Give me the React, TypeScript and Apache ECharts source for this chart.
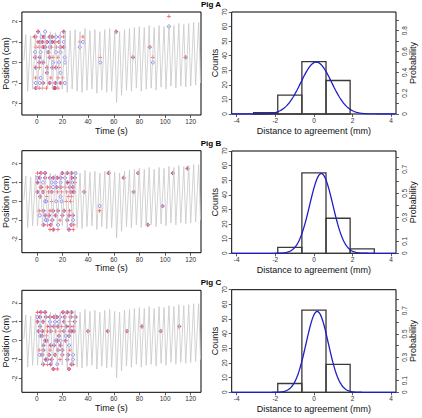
import { useEffect, useRef } from "react";
import * as echarts from "echarts";

const pigNames = ["Pig A", "Pig B", "Pig C"];

const timeTicks = [0, 20, 40, 60, 80, 100, 120];
const positionTicks = [-2, -1, 0, 1, 2];
const distanceTicks = [-4, -2, 0, 2, 4];
const countTicks = [0, 10, 20, 30, 40, 50, 60, 70];

// Breathing trace shared by the three panels: [time (s), position (cm)]
const breathingTrace: [number, number][] = [
  [-10, 0.1],
  [-8.6, 1.35], [-7.1, -1.4], [-4.75, 1.3], [-3.25, -1.3], [-0.9, 1.4], [0.6, -1.3],
  [2.95, 1.45], [4.45, -1.35], [6.8, 1.4], [8.3, -1.25], [10.65, 1.5], [12.15, -1.3],
  [14.5, 1.45], [16.0, -1.35], [18.35, 1.5], [19.85, -1.3], [22.2, 1.5], [23.7, -1.45],
  [26.05, 1.55], [27.55, -1.3], [29.9, 1.6], [31.4, -1.4], [33.75, 1.5], [35.25, -1.45],
  [37.6, 1.65], [39.1, -1.35], [41.45, 1.55], [42.95, -1.3], [45.3, 1.6], [46.8, -1.5],
  [49.15, 1.5], [50.65, -1.35], [53.0, 1.6], [54.5, -1.45], [56.85, 1.65], [58.35, -1.4],
  [60.7, 1.55], [62.2, -1.95], [64.55, 1.5], [66.05, -1.6], [68.4, 1.6], [69.9, -1.35],
  [72.25, 1.65], [73.75, -1.4], [76.1, 1.7], [77.6, -1.25], [79.95, 1.75], [81.45, -1.4],
  [83.8, 1.7], [85.3, -1.3], [87.65, 1.8], [89.15, -1.25], [91.5, 1.7], [93.0, -1.35],
  [95.35, 1.8], [96.85, -1.2], [99.2, 1.75], [100.7, -1.3], [103.05, 1.85], [104.55, -1.15],
  [106.9, 1.8], [108.4, -1.25], [110.75, 1.9], [112.25, -1.15], [114.6, 1.85], [116.1, -1.2],
  [118.45, 1.9], [119.95, -1.15], [122.3, 1.95], [123.8, -1.1], [126.15, 1.95], [127.65, -1.0],
];

// Marked positions [time (s), position (cm)]; "both" = marked by both methods
const pigABoth: [number, number][] = [
  [1, 1.5], [21, 1.5], [-1, 1.25], [5.5, 1.25], [10, 1.25], [12, 1.25],
  [2.3, 1.0], [4.4, 1.0], [8, 1.0], [12, 1.0], [14, 1.0], [17.3, 1.0],
  [5, 0.75], [6.5, 0.75], [18.5, 0.75], [21, 0.75], [9, 0.5],
  [-1.3, 0.25], [2.3, 0.25], [10, 0.25], [2, 0], [5, 0],
  [-0.8, -0.25], [8, -0.25], [12, -0.25], [15, -0.25], [8, -0.5],
  [5, -1.0], [10, -1.0], [14.5, -1.0], [18.5, -1.0],
  [-0.8, -1.25], [13.5, -1.25], [14.3, -1.25],
  [61.8, 1.5], [88, 0.75], [75, 0.25], [116, 0.25],
];
const pigARedOnly: [number, number][] = [
  [-2, 1.25], [21, 1.25], [0.8, 1.0], [-0.8, 0.75], [1.8, 0.75], [11.5, 0.75], [15.2, 0.75],
  [12.7, 0.25], [16.5, 0.25], [2, -0.25], [17.3, -0.25],
  [-0.8, -0.75], [11, -0.75], [16.5, -0.75], [20, -0.75],
  [1.8, -1.25], [4.4, -1.25], [7.5, -1.25], [16.5, -1.25],
  [36, 1.25], [33.5, 1.0], [49.5, 0.25], [90.5, 0.25], [103, 2.25],
];
const pigABlueOnly: [number, number][] = [
  [6.5, 1.5], [3.8, 1.25], [15, 1.25], [18, 1.25], [10.3, 1.0], [21, 1.0], [10, 0.75],
  [-1.3, 0.5], [3, 0.5], [15, 0.5], [18.5, 0.5], [21.8, 0.25], [12.7, 0], [17.3, 0], [22, 0],
  [18.5, -0.5], [3, -0.75], [-0.8, -1.0], [2.3, -1.0], [21.8, -1.0],
  [36, 1.0], [33.5, 0.75], [49.5, 0], [90.5, 0], [103, 1.75],
];

const pigBBoth: [number, number][] = [
  [3.1, 1.5], [6.5, 1.5], [19.9, 1.5], [23.8, 1.5], [27.1, 1.5],
  [56, 1.5], [79, 1.5], [106, 1.5], [117.5, 1.75],
  [2.3, 1.25], [6.5, 1.25], [10.3, 1.25], [12.9, 1.25], [16.0, 1.25], [18.6, 1.25], [27.1, 1.25], [29.7, 1.25],
  [67.7, 1.25], [0.5, 1.0], [23.8, 1.0],
  [3.1, 0.75], [15.5, 0.75], [18.6, 0.75], [25.6, 0.75], [28.2, 0.75],
  [0.5, 0.5], [4.9, 0.5], [11.6, 0.5], [26.4, 0.5], [28.9, 0.5], [37, 0.5], [75.5, 0.5],
  [2.6, 0.25], [98, -0.25],
  [5.2, -0.5], [12.7, -0.5], [16.5, -0.5], [21.2, -0.5],
  [6.5, -0.75], [9.6, -0.75], [14.7, -0.75], [19.9, -0.75], [25.1, -0.75], [28.2, -0.75],
  [12.1, -1.0], [23.8, -1.0],
  [5.2, -1.25], [10.9, -1.25], [26.9, -1.25], [86.5, -1.25],
  [12.9, -1.5], [25.1, -1.5],
];
const pigBRedOnly: [number, number][] = [
  [0.5, 1.5], [25.6, 1.0], [29.7, 1.0],
  [3.9, 0.75], [8.3, 0.75], [10.3, 0.75], [22.0, 0.75],
  [9.0, 0.5], [16.0, 0.5], [19.4, 0.5], [23.3, 0.5], [28.2, 0.5],
  [7.8, 0.25], [24.5, 0.25], [27.1, 0.25],
  [11.6, 0], [23.0, 0], [26.4, 0], [49, -0.5],
  [1.8, -0.5], [10.3, -0.5], [25.6, -0.5], [18.1, -1.0],
  [8.3, -1.25], [28.9, -1.25], [10.3, -1.5], [16.5, -1.5], [28.4, -1.5],
];
const pigBBlueOnly: [number, number][] = [
  [30.2, 1.5], [0.5, 1.25], [22.0, 1.25],
  [4.9, 1.0], [11.6, 1.0], [14.7, 1.0], [18.6, 1.0], [27.6, 1.0],
  [12.7, 0.75], [18.6, 0.25],
  [6.5, 0], [7.5, 0], [15.2, 0], [19.4, 0], [49, -0.25],
  [2.3, -0.75], [7.0, -1.0], [8.3, -1.0], [28.2, -1.0], [16.5, -1.25],
];

const pigCBoth: [number, number][] = [
  [3.1, 1.5], [6.5, 1.5], [20.4, 1.5], [23.8, 1.5], [27.1, 1.5],
  [2.6, 1.25], [7.0, 1.25], [10.3, 1.25], [13.4, 1.25], [15.5, 1.25], [21.7, 1.25], [26.4, 1.25], [30.2, 1.25],
  [0.5, 1.0], [4.9, 1.0], [21.2, 1.0], [29.5, 1.0],
  [2.6, 0.75], [10.3, 0.75], [13.4, 0.75], [16.5, 0.75], [23.0, 0.75], [25.8, 0.75], [82, 0.75], [111, 0.75],
  [1.3, 0.5], [4.4, 0.5], [10.9, 0.5], [21.2, 0.5], [25.6, 0.5], [27.1, 0.5], [28.9, 0.5],
  [40, 0.5], [55.3, 0.5], [70.3, 0.5], [96.6, 0.5],
  [3.9, 0.25], [17.3, 0.25], [25.1, 0.25],
  [6.5, 0], [7.8, 0], [16.0, 0], [22.5, 0],
  [5.2, -0.25], [10.9, -0.25], [13.4, -0.25], [18.6, -0.25],
  [5.2, -0.5], [16.5, -0.5], [19.9, -0.5],
  [4.4, -0.75], [9.6, -0.75], [14.2, -0.75], [19.9, -0.75], [24.5, -0.75],
  [7.0, -1.0], [8.3, -1.0], [11.6, -1.0], [23.8, -1.0],
  [4.9, -1.25], [10.9, -1.25], [27.1, -1.25],
  [12.9, -1.5], [25.1, -1.5],
];
const pigCRedOnly: [number, number][] = [
  [0.5, 1.5], [25.6, 1.0], [8.3, 0.75], [19.4, 0.75], [28.4, 0.75],
  [8.3, 0.5], [14.7, 0.5], [18.1, 0.5], [7.5, 0.25],
  [1.8, -0.5], [10.3, -0.5], [25.8, -0.5], [18.1, -1.0],
  [8.3, -1.25], [28.4, -1.25], [16.0, -1.5],
];
const pigCBlueOnly: [number, number][] = [
  [0.5, 1.25], [18.1, 1.25], [10.3, 1.0], [14.2, 1.0], [17.3, 1.0],
  [2.6, 0.25], [22.5, 0.25], [14.7, 0], [18.6, 0], [25.1, -0.25],
  [2.3, -0.75], [28.2, -0.75], [28.2, -1.0], [16.0, -1.25],
];

// Histogram of distance to agreement (mm)
const binEdges = [-3.125, -1.875, -0.625, 0.625, 1.875, 3.125];
const pigACounts = [1, 13, 36, 23, 0];
const pigBCounts = [0, 4, 55, 24, 3];
const pigCCounts = [0, 6, 56, 19, 0];

// Fitted normal distributions
const fitMeans = [0.12, 0.38, 0.17];
const fitSds = [0.8, 0.6, 0.575];

const probabilityMax = [0.98, 0.853, 0.88];
const probabilityTicks = [
  [0, 0.1, 0.2, 0.3, 0.4, 0.5, 0.6, 0.7, 0.8, 0.9],
  [0, 0.1, 0.2, 0.3, 0.4, 0.5, 0.6, 0.7, 0.8],
  [0, 0.1, 0.2, 0.3, 0.4, 0.5, 0.6, 0.7, 0.8],
];
const probabilityLabels = [
  [0, 0.2, 0.4, 0.6, 0.8],
  [0, 0.1, 0.3, 0.5, 0.7],
  [0, 0.1, 0.3, 0.5, 0.7],
];

const positionRanges = [
  [-2.56, 2.46],
  [-2.73, 2.69],
  [-2.73, 2.66],
];

const FONT = "'Liberation Sans', Arial, sans-serif";
const PLUS = "path://M2,0H3V2H5V3H3V5H2V3H0V2H2Z";

function normalDensity(mean: number, sd: number): [number, number][] {
  const pts: [number, number][] = [];
  for (let x = -4.26; x <= 4.26; x += 0.04) {
    const z = (x - mean) / sd;
    pts.push([x, Math.exp(-0.5 * z * z) / (sd * Math.sqrt(2 * Math.PI))]);
  }
  return pts;
}

function histData(counts: number[]) {
  const rows: number[][] = [];
  counts.forEach((c, i) => {
    if (c > 0) rows.push([binEdges[i], binEdges[i + 1], c]);
  });
  return rows;
}

export default function App() {
  const ref = useRef<HTMLDivElement>(null);

  useEffect(() => {
    if (!ref.current) return;
    const chart = echarts.init(ref.current, undefined, { renderer: "svg" });

    const both = [pigABoth, pigBBoth, pigCBoth];
    const redOnly = [pigARedOnly, pigBRedOnly, pigCRedOnly];
    const blueOnly = [pigABlueOnly, pigBBlueOnly, pigCBlueOnly];
    const counts = [pigACounts, pigBCounts, pigCCounts];

    const leftTops = [12, 150.7, 290.3];
    const leftHeights = [103, 102, 102];
    const histTops = [12, 151, 289.7];
    const histHeights = [102, 102.3, 102.6];
    const titleTops = [0.5, 139.5, 278];

    const tickLabel = { fontSize: 6.5, color: "#333", fontFamily: FONT };
    const tickStyle = { color: "#333", width: 0.8 };
    const nameStyle = { fontSize: 9, color: "#111", fontFamily: FONT };
    const noLine = { show: false, onZero: false };

    const grid: any[] = [];
    const xAxis: any[] = [];
    const yAxis: any[] = [];
    const series: any[] = [];
    const title: any[] = [];

    for (let i = 0; i < 3; i++) {
      title.push({
        text: pigNames[i],
        left: "center",
        top: titleTops[i],
        padding: 0,
        textStyle: { fontSize: 8, fontWeight: "bold", color: "#000", fontFamily: FONT },
      });

      grid.push(
        {
          left: 21, top: leftTops[i], width: 180, height: leftHeights[i],
          show: true, borderColor: "#000", borderWidth: 1, backgroundColor: "transparent",
        },
        {
          left: 231.7, top: histTops[i], width: 164.3, height: histHeights[i],
          show: true, borderColor: "#000", borderWidth: 1, backgroundColor: "transparent",
        }
      );

      xAxis.push(
        {
          type: "value", gridIndex: 2 * i, min: -11.6, max: 128,
          axisLine: noLine, splitLine: { show: false },
          axisTick: { show: true, length: 3, customValues: timeTicks, lineStyle: tickStyle },
          axisLabel: { customValues: timeTicks, margin: 3, ...tickLabel },
          name: "Time (s)", nameLocation: "middle", nameGap: 11, nameTextStyle: nameStyle,
        },
        {
          type: "value", gridIndex: 2 * i + 1, min: -4.26, max: 4.25,
          axisLine: noLine, splitLine: { show: false },
          axisTick: { show: true, length: 3, customValues: distanceTicks, lineStyle: tickStyle },
          axisLabel: { customValues: distanceTicks, margin: 3, ...tickLabel },
          name: "Distance to agreement (mm)", nameLocation: "middle", nameGap: 12, nameTextStyle: nameStyle,
        }
      );

      yAxis.push(
        {
          type: "value", gridIndex: 2 * i, min: positionRanges[i][0], max: positionRanges[i][1],
          position: "left",
          axisLine: noLine, splitLine: { show: false },
          axisTick: { show: true, length: 3, customValues: positionTicks, lineStyle: tickStyle },
          axisLabel: { customValues: positionTicks, margin: 4, rotate: 90, ...tickLabel },
          name: "Position (cm)", nameLocation: "middle", nameGap: 11.5, nameRotate: 90, nameTextStyle: nameStyle,
        },
        {
          type: "value", gridIndex: 2 * i + 1, min: 0, max: 70, position: "left",
          axisLine: noLine, splitLine: { show: false },
          axisTick: { show: true, length: 3, customValues: countTicks, lineStyle: tickStyle },
          axisLabel: { customValues: countTicks, margin: 4, rotate: 90, ...tickLabel },
          name: "Counts", nameLocation: "middle", nameGap: 11, nameRotate: 90, nameTextStyle: nameStyle,
        },
        {
          type: "value", gridIndex: 2 * i + 1, min: 0, max: probabilityMax[i], position: "right",
          axisLine: noLine, splitLine: { show: false },
          axisTick: { show: true, length: 3, customValues: probabilityTicks[i], lineStyle: tickStyle },
          axisLabel: { customValues: probabilityLabels[i], margin: 5, rotate: 90, ...tickLabel },
          name: "Probability", nameLocation: "middle", nameGap: 12, nameRotate: 90, nameTextStyle: nameStyle,
        }
      );

      series.push(
        {
          type: "line", xAxisIndex: 2 * i, yAxisIndex: 3 * i, data: breathingTrace,
          showSymbol: false, silent: true, lineStyle: { color: "#c8c8c8", width: 0.8 },
        },
        {
          type: "scatter", xAxisIndex: 2 * i, yAxisIndex: 3 * i,
          data: [...both[i], ...blueOnly[i]],
          symbol: "circle", symbolSize: 3,
          itemStyle: { color: "transparent", borderColor: "#4646ff", borderWidth: 0.8 },
        },
        {
          type: "scatter", xAxisIndex: 2 * i, yAxisIndex: 3 * i,
          data: [...both[i], ...redOnly[i]],
          symbol: PLUS, symbolSize: 4,
          itemStyle: { color: "#ff2a2a", opacity: 0.8 },
        },
        {
          type: "custom", xAxisIndex: 2 * i + 1, yAxisIndex: 3 * i + 1,
          data: histData(counts[i]), encode: { x: [0, 1], y: 2 },
          renderItem: (_p: any, api: any) => {
            const a = api.coord([api.value(0), api.value(2)]);
            const b = api.coord([api.value(1), 0]);
            return {
              type: "rect",
              shape: { x: a[0], y: a[1], width: b[0] - a[0], height: b[1] - a[1] },
              style: { fill: "none", stroke: "#3a3a3a", lineWidth: 1.3 },
            };
          },
        },
        {
          type: "line", xAxisIndex: 2 * i + 1, yAxisIndex: 3 * i + 2,
          data: normalDensity(fitMeans[i], fitSds[i]),
          showSymbol: false, smooth: false, silent: true,
          lineStyle: { color: "#1e1ec8", width: 1.3 },
        }
      );
    }

    chart.setOption({ animation: false, title, grid, xAxis, yAxis, series });
    return () => chart.dispose();
  }, []);

  return (
    <div
      ref={ref}
      style={{ position: "fixed", left: 0, top: 0, width: 422, height: 418, background: "#fff" }}
    />
  );
}
